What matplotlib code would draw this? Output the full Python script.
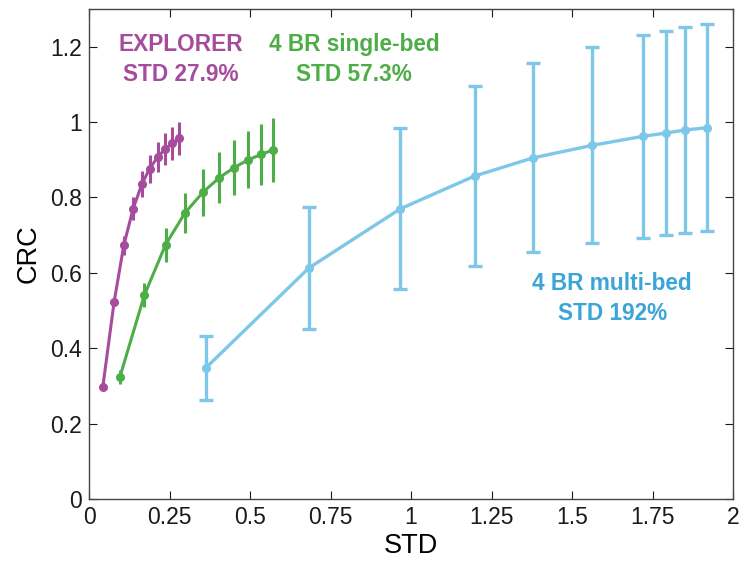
import matplotlib
matplotlib.use("Agg")
import matplotlib.pyplot as plt

# ---- data ----
explorer_x = [0.043, 0.078, 0.108, 0.137, 0.164, 0.188, 0.213, 0.237, 0.259, 0.280]
explorer_y = [0.298, 0.523, 0.673, 0.770, 0.835, 0.876, 0.907, 0.929, 0.944, 0.957]
explorer_e = [0.004, 0.010, 0.026, 0.031, 0.034, 0.037, 0.040, 0.042, 0.044, 0.044]

single_x = [0.096, 0.172, 0.238, 0.298, 0.354, 0.404, 0.450, 0.495, 0.534, 0.571]
single_y = [0.324, 0.541, 0.675, 0.759, 0.814, 0.852, 0.879, 0.900, 0.914, 0.926]
single_e = [0.018, 0.032, 0.045, 0.054, 0.062, 0.068, 0.073, 0.076, 0.081, 0.085]

multi_x = [0.363, 0.683, 0.967, 1.198, 1.379, 1.561, 1.719, 1.792, 1.852, 1.919]
multi_y = [0.348, 0.613, 0.770, 0.857, 0.905, 0.938, 0.962, 0.971, 0.979, 0.985]
multi_e = [0.085, 0.163, 0.214, 0.239, 0.251, 0.260, 0.269, 0.270, 0.272, 0.274]

xticks = [0, 0.25, 0.5, 0.75, 1, 1.25, 1.5, 1.75, 2]
xtick_labels = ["0", "0.25", "0.5", "0.75", "1", "1.25", "1.5", "1.75", "2"]
yticks = [0, 0.2, 0.4, 0.6, 0.8, 1.0, 1.2]
ytick_labels = ["0", "0.2", "0.4", "0.6", "0.8", "1", "1.2"]

labels = ["EXPLORER\nSTD 27.9%", "4 BR single-bed\nSTD 57.3%", "4 BR multi-bed\nSTD 192%"]

purple = "#A64C9C"
green = "#4DAE48"
blue_line = "#7DC7E8"
blue_text = "#3AA5D6"

plt.rcParams['font.family'] = ['Liberation Sans', 'DejaVu Sans']

fig = plt.figure(figsize=(7.5, 5.61), dpi=100)
ax = fig.add_axes([89/750, 1 - 499/561, (733-89)/750, (499-9)/561])

ax.errorbar(explorer_x, explorer_y, yerr=explorer_e, color=purple, lw=2.2,
            elinewidth=2.2, marker='o', ms=5.5, capsize=0)
ax.errorbar(single_x, single_y, yerr=single_e, color=green, lw=2.2,
            elinewidth=2.2, marker='o', ms=5.5, capsize=0)
ax.errorbar(multi_x, multi_y, yerr=multi_e, color=blue_line, lw=2.4,
            elinewidth=2.4, marker='o', ms=5.5, capsize=5, capthick=2.4)

ax.set_xlim(0, 2)
ax.set_ylim(0, 1.3)
ax.set_xticks(xticks)
ax.set_xticklabels(xtick_labels)
ax.set_yticks(yticks)
ax.set_yticklabels(ytick_labels)
ax.tick_params(direction='in', length=6, width=0.8, top=True, right=True,
               labelsize=16.5, colors='#1a1a1a', pad=5)
for s in ax.spines.values():
    s.set_linewidth(1.0)
    s.set_color('#444444')

ax.set_xlabel("STD", fontsize=19.5, labelpad=3)
ax.set_ylabel("CRC", fontsize=19.5, labelpad=6)

ax.text(0.285, 1.166, labels[0], color=purple, fontsize=16.3, fontweight='bold',
        ha='center', va='center', linespacing=1.4)
ax.text(0.823, 1.166, labels[1], color=green, fontsize=16.3, fontweight='bold',
        ha='center', va='center', linespacing=1.4)
ax.text(1.625, 0.532, labels[2], color=blue_text, fontsize=16.3, fontweight='bold',
        ha='center', va='center', linespacing=1.4)

fig.savefig("out.png", dpi=100)
